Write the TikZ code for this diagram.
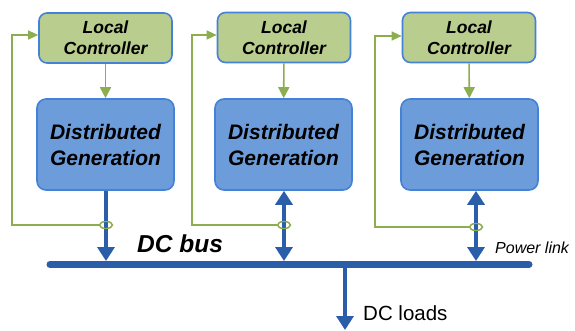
\documentclass[tikz,border=0pt]{standalone}
\usepackage{fontspec}
\setmainfont{Liberation Sans}
\usetikzlibrary{arrows.meta,shapes.geometric}
\definecolor{ctrlfill}{HTML}{B9CD8E}
\definecolor{dgfill}{HTML}{6D9CDA}
\definecolor{boxline}{HTML}{4482D6}
\definecolor{powblue}{HTML}{2B5EA9}
\definecolor{fbgreen}{HTML}{8DAE4F}
\tikzset{
  ctrlbox/.style={draw=boxline, line width=1.6pt, fill=ctrlfill, rounded corners=8pt,
    minimum width=133pt, minimum height=50pt, inner sep=0pt, align=center,
    font=\fontsize{17.5}{21}\selectfont\bfseries\itshape},
  dgbox/.style={draw=boxline, line width=1.6pt, fill=dgfill, rounded corners=9pt,
    minimum width=137pt, minimum height=91pt, inner sep=0pt, align=center,
    font=\fontsize{21}{26}\selectfont\bfseries\itshape},
  sensor/.style={draw=fbgreen, line width=1.2pt, ellipse, minimum width=13pt,
    minimum height=7pt, inner sep=0pt},
  fb/.style={draw=fbgreen, line width=1.2pt, -{Triangle[width=9pt,length=10pt]}},
  ctl/.style={draw=fbgreen, line width=1.6pt, -{Triangle[width=11pt,length=11pt]}},
  pow/.style={draw=powblue, line width=3.5pt, -{Triangle[width=17pt,length=14pt]}},
  powtwo/.style={draw=powblue, line width=3.5pt,
    {Triangle[width=17pt,length=14pt]}-{Triangle[width=17pt,length=14pt]}},
  lbl/.style={anchor=west, inner sep=0pt}
}
\begin{document}
\begin{tikzpicture}[x=1pt,y=-1pt]
  \useasboundingbox (0,0) rectangle (575,330);
  % generators and their controllers
  \node[ctrlbox] (ctrlA) at (105.5,38) {Local\\Controller};
  \node[dgbox] (dgA) at (105.5,144.5) {Distributed\\Generation};
  \node[ctrlbox] (ctrlB) at (284,37.5) {Local\\Controller};
  \node[dgbox] (dgB) at (283.5,144.5) {Distributed\\Generation};
  \node[ctrlbox] (ctrlC) at (469,37.5) {Local\\Controller};
  \node[dgbox] (dgC) at (469.5,144.5) {Distributed\\Generation};
  \draw[ctl] (ctrlA) -- (dgA);
  \draw[ctl] (ctrlB) -- (dgB);
  \draw[ctl] (ctrlC) -- (dgC);
  % bus
  \coordinate (busL) at (50,264.5);
  \coordinate (busR) at (529,264.5);
  \coordinate (busT) at (0,261);
  \draw[powblue, line width=7pt, line cap=round] (busL) -- (busR);
  % power links
  \node[sensor] (sensA) at (106,225) {};
  \node[sensor] (sensB) at (284,225) {};
  \node[sensor] (sensC) at (476,227) {};
  \draw[pow] (sensA |- dgA.south) -- (sensA |- busT);
  \draw[powtwo] (sensB |- dgB.south) -- (sensB |- busT);
  \draw[powtwo] (sensC |- dgC.south) -- (sensC |- busT);
  \node[sensor] at (sensA) {};
  \node[sensor] at (sensB) {};
  \node[sensor] at (sensC) {};
  % feedback
  \coordinate (cornA) at (12,225);
  \coordinate (cornB) at (192,225);
  \coordinate (cornC) at (375,227);
  \draw[fb] (sensA.west) -- (cornA) |- ([yshift=3pt]ctrlA.west);
  \draw[fb] (sensB.west) -- (cornB) |- ([yshift=2.5pt]ctrlB.west);
  \draw[fb] (sensC.west) -- (cornC) |- ([yshift=1.5pt]ctrlC.west);
  % loads
  \coordinate (load) at (345,330);
  \draw[pow] (load |- busL) -- (load);
  % labels
  \node[lbl, font=\fontsize{24.5}{28}\selectfont\bfseries\itshape] (buslbl) at (137,244) {DC bus};
  \node[lbl, font=\fontsize{16}{19}\selectfont\itshape] (linklbl) at (495,248) {Power link};
  \node[lbl, font=\fontsize{20.5}{24}\selectfont] (loadlbl) at (363,313) {DC loads};
\end{tikzpicture}
\end{document}
